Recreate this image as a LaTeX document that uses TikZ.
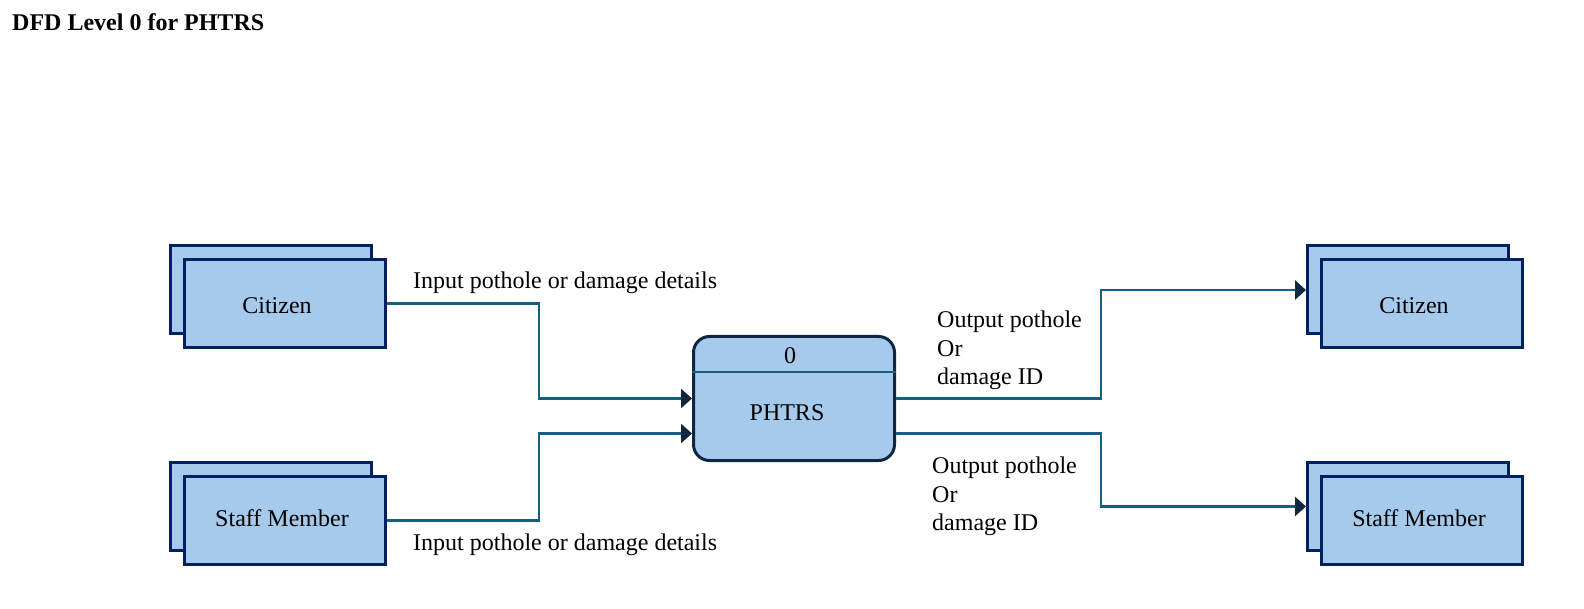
\documentclass[tikz,border=0pt]{standalone}
\usepackage{fontspec}
\setmainfont{Liberation Serif}
\usetikzlibrary{arrows.meta,positioning}

\definecolor{boxfill}{HTML}{A6CAEC}
\definecolor{entityline}{HTML}{002060}
\definecolor{procline}{HTML}{0E2841}
\definecolor{flowline}{HTML}{156082}
\definecolor{tipfill}{HTML}{0E2841}

\begin{document}
\begin{tikzpicture}[
    x=1pt, y=-1pt,
    font=\fontsize{24}{28.5}\selectfont,
    entity/.style={rectangle, draw=entityline, fill=boxfill, line width=3pt, minimum width=201pt, minimum height=88pt, inner sep=0pt},
    process/.style={rectangle, draw=procline, fill=boxfill, line width=3pt, rounded corners=16pt, minimum width=201pt, minimum height=124pt, inner sep=0pt},
    flow/.style={draw=flowline, line width=2.8pt, -{Triangle[length=11pt, width=19pt, color=tipfill]}},
    flowlabel/.style={align=left, inner sep=0pt, anchor=west}
]
    \path[use as bounding box, fill=white] (0,0) rectangle (1584,609);

    % Title
    \node[anchor=base west, inner sep=0pt, font=\fontsize{24}{28.5}\selectfont\bfseries] (title) at (12,31) {DFD Level 0 for PHTRS};

    % External entities, left
    \node[entity] (citLback) at (271,289.5) {};
    \node[entity] (citL) at (285,303.5) {};
    \node (citLtext) at ([xshift=-8pt,yshift=-2pt]citL.center) {Citizen};

    \node[entity] (staffLback) at (271,506.5) {};
    \node[entity] (staffL) at (285,520.5) {};
    \node (staffLtext) at ([xshift=-3pt,yshift=2pt]staffL.center) {Staff Member};

    % External entities, right
    \node[entity] (citRback) at (1408,290) {};
    \node[entity] (citR) at (1422,304) {};
    \node (citRtext) at ([xshift=-8pt,yshift=-2pt]citR.center) {Citizen};

    \node[entity] (staffRback) at (1408,506.5) {};
    \node[entity] (staffR) at (1422,520.5) {};
    \node (staffRtext) at ([xshift=-3pt,yshift=2pt]staffR.center) {Staff Member};

    % Process
    \node[process] (proc) at (794,398.5) {};
    \draw[flowline, line width=2.8pt] (proc.west |- 0,372) -- (proc.east |- 0,372);
    \node (procid) at (790,356) {0};
    \node (procname) at (787,413) {PHTRS};

    % Data flows
    \draw[flow] (citL.east) -- ++(152,0) |- (proc.west);
    \draw[flow] (staffL.east) -- ++(152,0) |- ([yshift=-35pt]proc.west);
    \draw[flow] (proc.east) -- ++(205,0) |- (citRback.west);
    \draw[flow] ([yshift=-35pt]proc.east) -- ++(205,0) |- (staffRback.west);

    % Flow labels
    \node[flowlabel] (inTop) at (413,283) {Input pothole or damage details};
    \node[flowlabel] (inBottom) at (413,545) {Input pothole or damage details};
    \node[flowlabel] (outTop) at (937,350.5) {Output pothole\\Or\\damage ID};
    \node[flowlabel] (outBottom) at (932,496.5) {Output pothole\\Or\\damage ID};

\end{tikzpicture}
\end{document}
